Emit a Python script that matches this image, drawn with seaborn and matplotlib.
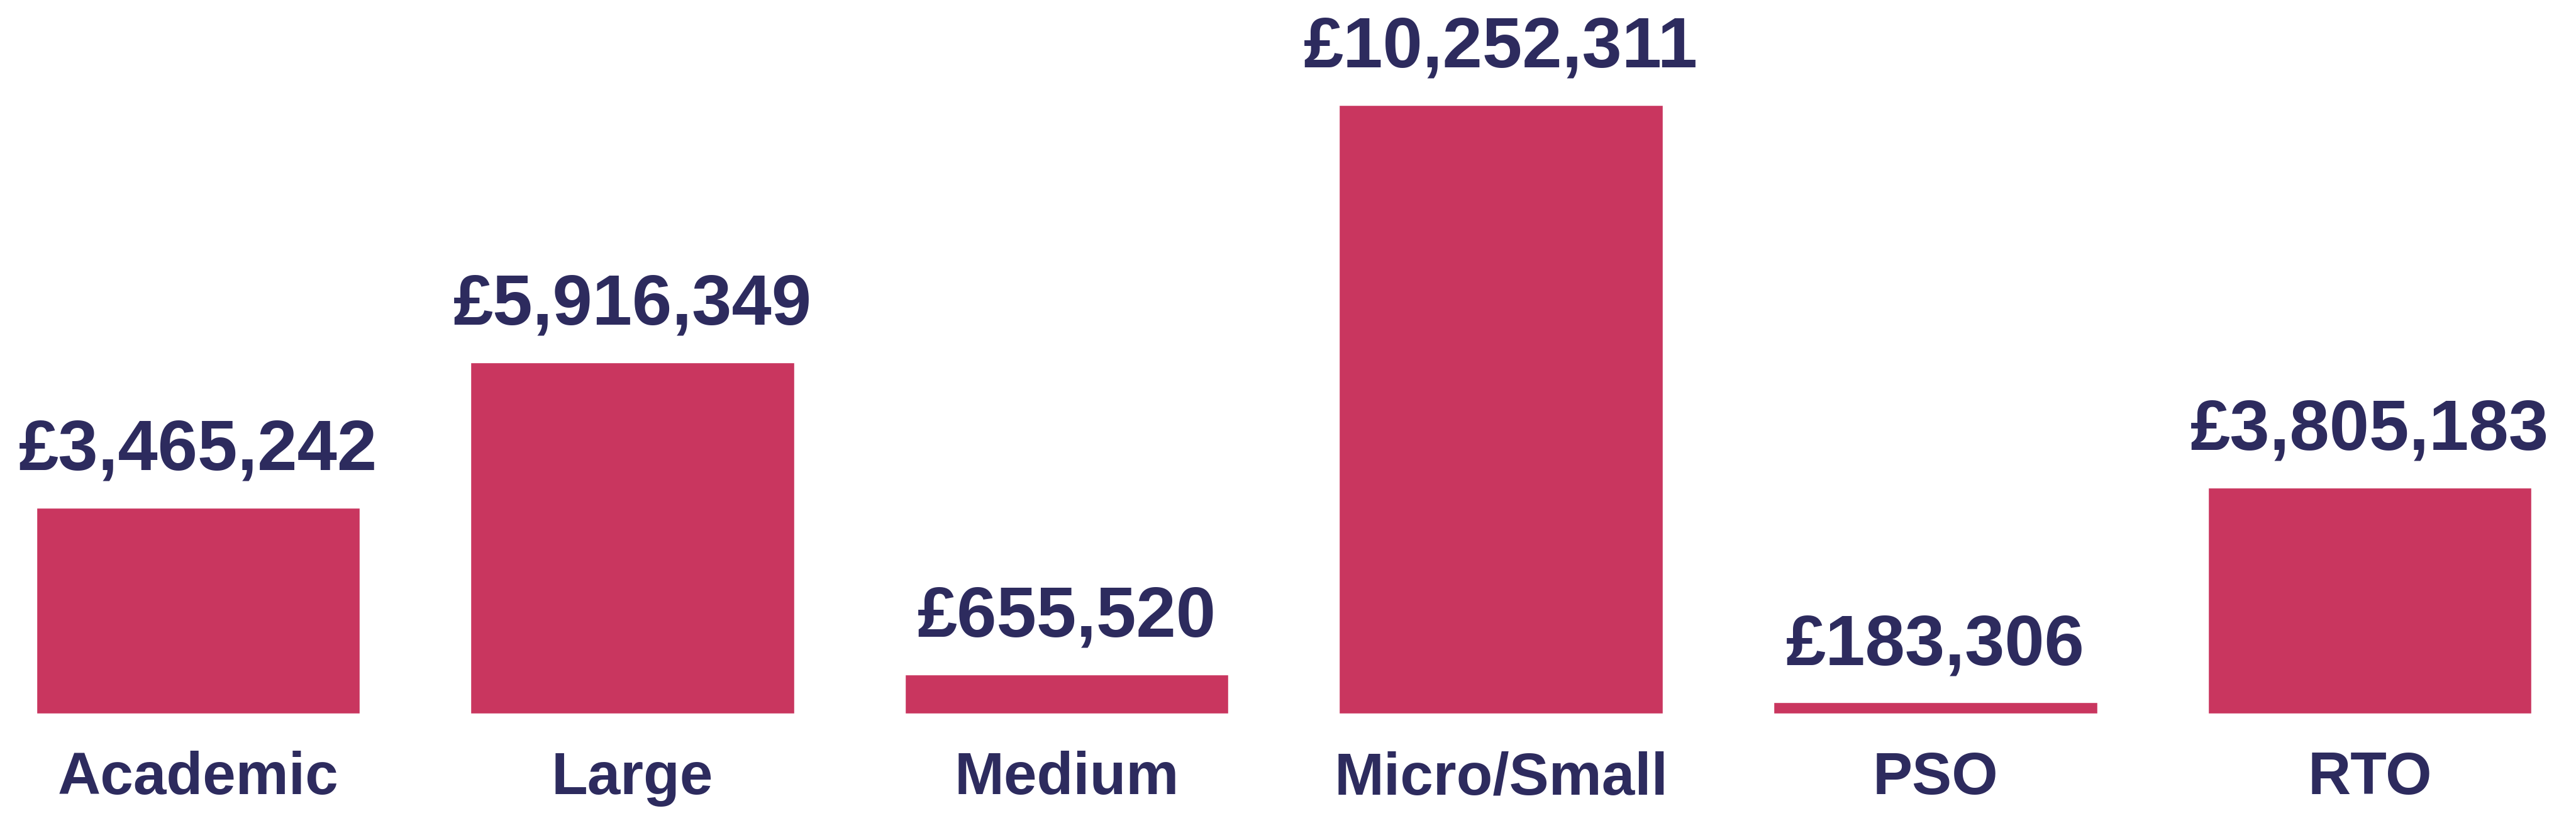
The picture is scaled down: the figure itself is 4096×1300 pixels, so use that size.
import matplotlib
matplotlib.use("Agg")
import matplotlib.pyplot as plt
import seaborn as sns

categories = ["Academic", "Large", "Medium", "Micro/Small", "PSO", "RTO"]
amounts = [3465242, 5916349, 655520, 10252311, 183306, 3805183]

bar_colour = "#c9365f"
text_colour = "#2d2b5e"

sns.set_style("white")
plt.rcParams['font.family'] = ['Liberation Sans', 'DejaVu Sans']

fig = plt.figure(figsize=(40.96, 13), dpi=100)
ax = fig.add_axes([0, 0.128, 1, 0.872])

sns.barplot(x=categories, y=amounts, color=bar_colour, saturation=1, width=0.745, ax=ax)

ax.bar_label(ax.containers[0], labels=[f"£{v:,}" for v in amounts],
             padding=26, fontsize=82, fontweight='bold', color=text_colour)

ax.set_xlim(-0.456, 5.475)
ax.set_ylim(0, 12.02e6)
ax.set_yticks([])
ax.set_xlabel("")
ax.set_ylabel("")
ax.tick_params(axis='x', length=0, pad=43, labelsize=68, labelcolor=text_colour)
for lbl in ax.get_xticklabels():
    lbl.set_fontweight('bold')
sns.despine(ax=ax, left=True, bottom=True)

fig.savefig("out.png", dpi=100)
